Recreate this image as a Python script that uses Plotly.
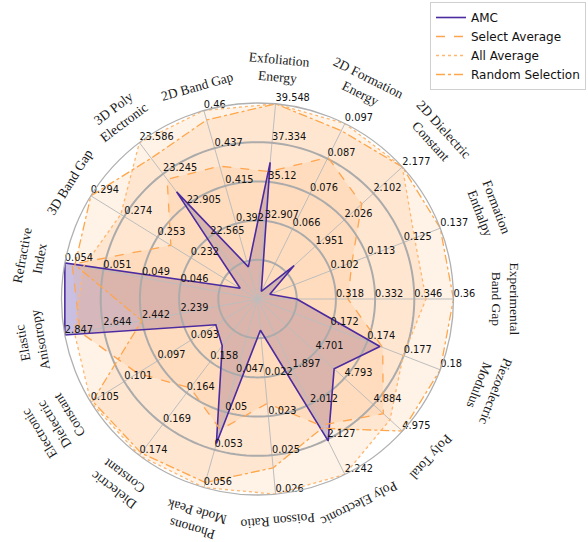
import math
import plotly.graph_objects as go

# ---------------- data ----------------
categories = [
    "Experimental<br>Band Gap", "Formation<br>Enthalpy", "2D Dielectric<br>Constant",
    "2D Formation<br>Energy", "Exfoliation<br>Energy", "2D Band Gap",
    "3D Poly<br>Electronic", "3D Band Gap", "Refractive<br>Index",
    "Elastic<br>Anisotropy", "Electronic<br>Dielectric<br>Constant", "Dielectric<br>Constant",
    "Phonons<br>Mode Peak", "Poisson Ratio", "Poly Electronic", "Poly Total",
    "Piezoelectric<br>Modulus",
]

tick_labels = [
    ["0.318", "0.332", "0.346", "0.36"],
    ["0.102", "0.113", "0.125", "0.137"],
    ["1.951", "2.026", "2.102", "2.177"],
    ["0.066", "0.076", "0.087", "0.097"],
    ["32.907", "35.12", "37.334", "39.548"],
    ["0.392", "0.415", "0.437", "0.46"],
    ["22.565", "22.905", "23.245", "23.586"],
    ["0.232", "0.253", "0.274", "0.294"],
    ["0.046", "0.049", "0.051", "0.054"],
    ["2.239", "2.442", "2.644", "2.847"],
    ["0.093", "0.097", "0.101", "0.105"],
    ["0.158", "0.164", "0.169", "0.174"],
    ["0.047", "0.05", "0.053", "0.056"],
    ["0.022", "0.023", "0.025", "0.026"],
    ["1.897", "2.012", "2.127", "2.242"],
    ["4.701", "4.793", "4.884", "4.975"],
    ["0.172", "0.174", "0.177", "0.18"],
]
tick_radii = [0.4, 0.6, 0.8, 1.0]
grid_radii = [0.2, 0.4, 0.6, 0.8]

amc = [0.304, 0.0826, 1.8956, 0.0476, 36.23, 0.366, 23.05, 0.2014, 0.054,
       2.847, 0.0900, 0.1553, 0.0525, 0.0204, 2.132, 4.760, 0.1756]
select_avg = [0.3223, 0.1088, 2.0715, 0.087, 35.71, 0.4265, 23.186, 0.2444, 0.0535,
              2.766, 0.0994, 0.1625, 0.0514, 0.0229, 2.081, 4.915, 0.1758]
all_avg = [0.3502, 0.1288, 2.177, 0.097, 39.548, 0.46, 23.586, 0.2754, 0.0527,
           2.796, 0.105, 0.174, 0.056, 0.026, 2.242, 4.936, 0.1773]
random_sel = [0.36, 0.137, 2.177, 0.0949, 39.548, 0.4543, 23.416, 0.294, 0.0533,
              2.442, 0.1048, 0.1736, 0.0556, 0.0251, 2.0908, 4.975, 0.18]

series = [
    ("Select Average", select_avg, "#ffa54f", "dash", "rgba(255,165,80,0.14)"),
    ("All Average", all_avg, "#ffb66e", "dot", "rgba(255,165,80,0.14)"),
    ("Random Selection", random_sel, "#ffa64a", "dashdot", "rgba(255,165,80,0.14)"),
]

# ---------------- geometry ----------------
W, H = 588, 542
CX, CY, RAD = 257.5, 299.0, 196.0
n = len(categories)
angles = [i * 360.0 / n for i in range(n)]


def to_r(i, v):
    t0 = float(tick_labels[i][0])
    t3 = float(tick_labels[i][-1])
    return tick_radii[0] + (tick_radii[-1] - tick_radii[0]) * (v - t0) / (t3 - t0)


def closed(vals):
    rr = [to_r(i, v) for i, v in enumerate(vals)]
    return rr + rr[:1], angles + angles[:1]


fig = go.Figure()

# AMC fill first, orange fills over it
amc_r, amc_t = closed(amc)
fig.add_trace(go.Scatterpolar(r=amc_r, theta=amc_t, mode="lines", fill="toself",
                              fillcolor="rgba(75,44,160,0.30)", line=dict(width=0),
                              showlegend=False, hoverinfo="skip"))
for name, vals, col, dash, fcol in series:
    rr, th = closed(vals)
    fig.add_trace(go.Scatterpolar(r=rr, theta=th, mode="lines", fill="toself",
                                  fillcolor=fcol, line=dict(width=0, color=fcol),
                                  showlegend=False, hoverinfo="skip"))

# grid drawn above the fills (as in the reference)
spoke_r, spoke_t = [], []
for a in angles:
    spoke_r += [0, 1, None]
    spoke_t += [a, a, None]
fig.add_trace(go.Scatterpolar(r=spoke_r, theta=spoke_t, mode="lines",
                              line=dict(color="#bdbdbd", width=1),
                              showlegend=False, hoverinfo="skip"))
circ_t = [k * 2.0 for k in range(181)]
for gr in grid_radii:
    fig.add_trace(go.Scatterpolar(r=[gr] * len(circ_t), theta=circ_t, mode="lines",
                                  line=dict(color="#ababab", width=2),
                                  showlegend=False, hoverinfo="skip"))

# outlines (legend entries)
fig.add_trace(go.Scatterpolar(r=amc_r, theta=amc_t, mode="lines", name="AMC",
                              line=dict(color="#4b2ba0", width=1.6)))
for name, vals, col, dash, fcol in series:
    r2, t2 = closed(vals)
    fig.add_trace(go.Scatterpolar(r=r2, theta=t2, mode="lines", name=name,
                                  line=dict(color=col, width=1.3, dash=dash)))

# per-axis tick labels
tr, tt, tx = [], [], []
for i in range(n):
    for rv, lab in zip(tick_radii, tick_labels[i]):
        tr.append(rv)
        tt.append(angles[i])
        tx.append(lab)
fig.add_trace(go.Scatterpolar(r=tr, theta=tt, text=tx, mode="text",
                              textposition="top right",
                              textfont=dict(family="DejaVu Sans", size=9.8, color="#111111"),
                              showlegend=False, hoverinfo="skip"))

# category labels, tangential
annotations = []
for i, lab in enumerate(categories):
    a = math.radians(angles[i])
    nl = lab.count("<br>") + 1
    d = 212 + 9 * nl + 18 * max(0.0, math.cos(a))
    px = CX + d * math.cos(a)
    py = CY - d * math.sin(a)
    ta = 90 - angles[i]
    while ta > 180:
        ta -= 360
    while ta <= -180:
        ta += 360
    annotations.append(dict(x=px / W, y=1 - py / H, xref="paper", yref="paper",
                            text=lab, showarrow=False, textangle=ta,
                            xanchor="center", yanchor="middle", align="center",
                            font=dict(family="Liberation Serif", size=13.5, color="#1a1a1a")))

fig.update_layout(
    width=W, height=H,
    margin=dict(l=0, r=0, t=0, b=0),
    paper_bgcolor="white",
    plot_bgcolor="white",
    annotations=annotations,
    showlegend=True,
    legend=dict(x=430 / W, y=1 - 2 / H, xanchor="left", yanchor="top",
                bordercolor="#d0d0d0", borderwidth=1, bgcolor="rgba(255,255,255,0.9)",
                font=dict(family="DejaVu Sans", size=12, color="#111111"),
                tracegroupgap=0),
    polar=dict(
        domain=dict(x=[(CX - RAD) / W, (CX + RAD) / W],
                    y=[(H - CY - RAD) / H, (H - CY + RAD) / H]),
        bgcolor="white",
        radialaxis=dict(range=[0, 1], showgrid=False, showticklabels=False, ticks="",
                        showline=False),
        angularaxis=dict(thetaunit="degrees", rotation=0, direction="counterclockwise",
                         showgrid=False, showticklabels=False, ticks="",
                         showline=True, linecolor="#b0b0b0", linewidth=1.3,
                         layer="above traces"),
    ),
)

fig.write_html("out.html", config={"displayModeBar": False},
               post_script="document.body.style.margin='0px';document.body.style.padding='0px';")
